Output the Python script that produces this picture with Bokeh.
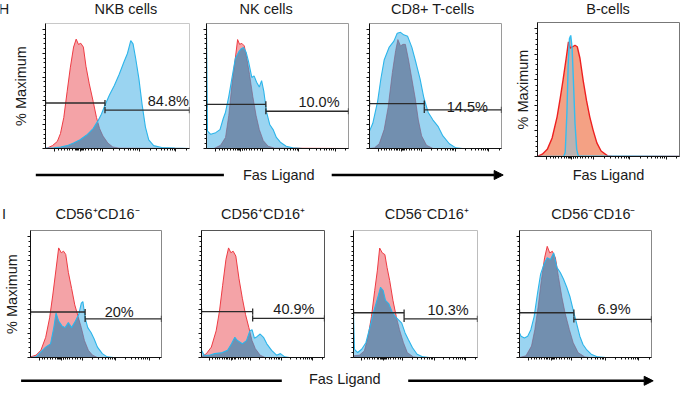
import numpy as np
from bokeh.plotting import figure
from bokeh.layouts import row, column
from bokeh.models import Range1d, FixedTicker, Label, Arrow, NormalHead
from bokeh.embed import file_html
from bokeh.resources import INLINE

FONT = "Liberation Sans"
TXT = "#1a1a1a"
FS = "14.5px"

# ---------------- data (x: Fas Ligand display scale 0-100, y: % of maximum) ----------------
titles_h = ["NKB cells", "NK cells", "CD8+ T-cells", "B-cells"]
titles_i = ["CD56\u207aCD16\u207b", "CD56\u207aCD16\u207a", "CD56\u207bCD16\u207a", "CD56\u207bCD16\u207b"]
gate_labels_h = ["84.8%", "10.0%", "14.5%"]
gate_labels_i = ["20%", "40.9%", "10.3%", "6.9%"]

nkb_red_x = [0, 1.4, 4.8, 8.2, 10.4, 12.7, 15.0, 17.2, 19.5, 21.3, 22.9, 24.5, 26.3, 28.1, 30.4, 33.1, 35.4, 37.6, 39.9, 43.3, 46.7, 51.2, 100]
nkb_red_y = [0, 0.5, 2.4, 5.9, 12.6, 26, 47.6, 67.7, 85.2, 91.9, 87.4, 88.4, 85.2, 69.1, 54.3, 39.5, 26.1, 16.7, 10.5, 4.6, 1.3, 0.3, 0]
nkb_blue_x = [0, 5.9, 10.4, 15.0, 19.5, 24.0, 28.6, 33.1, 36.5, 38.8, 41.0, 44.4, 47.8, 51.2, 54.6, 56.9, 59.2, 60.8, 62.6, 64.9, 67.1, 69.4, 71.7, 75.1, 80.7, 89.8, 100]
nkb_blue_y = [0.3, 0.5, 1.3, 2.4, 4.6, 7.3, 11.3, 16.7, 23.4, 28.8, 35.5, 44.9, 53, 62.4, 73.1, 79.8, 90.6, 87.9, 75.8, 58.3, 36.8, 18, 7.3, 2.4, 0.8, 0.3, 0]

nk_red_x = [0, 5.3, 9.9, 13.4, 15.7, 18.0, 20.3, 21.9, 23.3, 24.9, 26.6, 28.4, 30.3, 32.6, 34.9, 37.2, 40.0, 43.4, 48.0, 100]
nk_red_y = [0, 0, 2.7, 9.3, 27.9, 54.4, 75.6, 91.5, 87.5, 88.3, 86.2, 75.6, 62.3, 43.8, 27.9, 15.9, 6.6, 1.9, 0.3, 0]
nk_blue_x = [0, 0.7, 3.0, 6.5, 9.5, 11.8, 13.4, 15.7, 18.0, 20.3, 22.6, 24.2, 26.1, 27.9, 29.6, 31.9, 33.5, 35.3, 37.2, 38.8, 40.4, 42.3, 44.6, 46.9, 49.2, 52.0, 56.1, 60.7, 67.7, 100]
nk_blue_y = [104, 14.6, 11.9, 13.3, 15.9, 25.2, 30.5, 43.8, 59.7, 75.6, 80.9, 83.6, 84.9, 80.9, 72.9, 59.7, 61, 55.7, 51.7, 57, 47.7, 30.5, 19.9, 15.9, 9.3, 5.3, 1.9, 0.5, 0, 0]

cd8_red_x = [0, 3.7, 7.4, 11.1, 14.1, 17.3, 19.8, 21.5, 23.5, 25.4, 27.2, 29.6, 32.1, 34.6, 37.0, 39.5, 43.2, 48.1, 100]
cd8_red_y = [0, 0.5, 4, 15.9, 34.5, 63.7, 82.2, 91.5, 86.2, 87.5, 87.5, 74.3, 58.4, 42.4, 23.9, 10.6, 2.7, 0, 0]
cd8_blue_x = [0, 2.5, 6.2, 8.6, 11.1, 14.8, 18.5, 21.0, 23.5, 25.9, 28.9, 32.1, 35.3, 38.3, 41.2, 44.4, 48.1, 51.9, 55.6, 60.5, 65.4, 70.4, 100]
cd8_blue_y = [14.6, 21.2, 39.8, 58.4, 74.3, 84.9, 90.2, 96.8, 97.6, 95.5, 94.2, 84.9, 71.6, 58.4, 42.4, 30.5, 23.9, 18.6, 10.6, 4.0, 0.5, 0, 0]

bc_red_x = [0, 3.4, 6.9, 10.3, 13.8, 16.1, 17.9, 20.2, 21.8, 23.0, 24.8, 26.4, 28.0, 29.9, 32.2, 34.5, 36.8, 39.1, 41.8, 44.8, 49.4, 52.9, 100]
bc_red_y = [0, 1.8, 5.6, 14.5, 31.1, 46.4, 59.2, 77, 89.8, 85, 86, 87.2, 86, 77, 59.2, 43.9, 31.1, 20.9, 10.7, 4.3, 0.5, 0, 0]
bc_blue_x = [0, 18.4, 19.5, 20.7, 21.6, 22.5, 23.4, 24.4, 25.3, 26.4, 27.6, 28.7, 100]
bc_blue_y = [0, 0, 3.1, 33.7, 71.9, 92.3, 94.9, 84.7, 59.2, 26, 5.6, 0.5, 0]

i1_red_x = [0, 4.2, 7.9, 11.6, 14.6, 17.0, 19.5, 21.5, 23.5, 25.2, 26.9, 28.9, 31.4, 33.8, 36.3, 38.8, 41.2, 44.2, 47.4, 51.1, 100]
i1_red_y = [0.5, 1.9, 5.9, 16.7, 32.8, 51.6, 73.1, 90.6, 86.6, 87.9, 85.2, 70.4, 57, 43.5, 34.1, 24.7, 14, 5.9, 1.9, 0, 0]
i1_blue_x = [0, 4.2, 7.9, 11.6, 15.3, 17.8, 19.5, 21.5, 24.0, 26.4, 28.9, 31.4, 34.3, 36.8, 38.8, 40.0, 41.7, 43.7, 46.2, 48.6, 51.1, 54.8, 58.5, 63.5, 100]
i1_blue_y = [0, 0.5, 4.6, 8.6, 11.3, 24.7, 36.8, 30.1, 26.1, 24.7, 28.8, 24.7, 30.1, 35.5, 44.9, 46.2, 32.8, 24.7, 20.7, 15.3, 8.6, 3.2, 0.5, 0, 0]

i2_red_x = [0, 4.0, 8.0, 11.9, 14.6, 17.2, 19.9, 22.0, 23.9, 25.7, 27.9, 30.5, 33.2, 35.8, 38.5, 41.1, 43.8, 47.7, 51.7, 100]
i2_red_y = [0.5, 3.2, 8.6, 22.0, 38.2, 59.7, 81.2, 90.6, 86.6, 87.9, 83.9, 65.1, 49, 35.5, 24.7, 14, 7.3, 1.9, 0, 0]
i2_blue_x = [0, 2.1, 6.6, 10.6, 15.9, 21.2, 24.4, 27.1, 29.2, 33.2, 36.6, 39.3, 41.1, 43.0, 45.1, 47.7, 50.4, 53.1, 57.0, 61.0, 64.2, 67.6, 71.6, 100]
i2_blue_y = [5.9, 1.9, 1.9, 3.2, 3.8, 5.9, 11.3, 16.7, 14, 11.3, 14, 22, 23, 16, 17.2, 19.4, 16.7, 11.3, 5.9, 1.9, 3.2, 0.5, 0, 0]

i3_red_x = [0, 4.7, 8.7, 11.8, 14.5, 17.1, 19.2, 21.1, 23.2, 25.3, 27.1, 29.2, 31.8, 34.5, 37.1, 40.3, 43.4, 48.2, 52.1, 100]
i3_red_y = [1.4, 1.9, 5.4, 17.6, 33.8, 55.4, 71.6, 90.5, 86.5, 85.1, 74.3, 63.5, 47.3, 33.8, 23, 12.2, 4.1, 0.5, 0, 0]
i3_blue_x = [0, 0.8, 3.4, 6.6, 10.0, 13.4, 16.6, 19.7, 21.8, 23.9, 25.8, 28.4, 31.1, 33.7, 36.3, 38.9, 41.6, 44.2, 47.6, 51.3, 56.1, 61.3, 100]
i3_blue_y = [36.5, 6.8, 4.1, 6.8, 12.2, 25.7, 39.2, 50, 58.1, 55.4, 47.3, 44.6, 37.8, 33.8, 31.1, 28.4, 20.3, 14.9, 8.1, 2.7, 0.5, 0, 0]

i4_red_x = [0, 4.9, 9.1, 11.6, 14.1, 16.5, 19.0, 21.0, 22.9, 24.9, 27.2, 29.6, 32.1, 34.6, 37.8, 40.7, 44.4, 49.4, 53.1, 100]
i4_red_y = [0, 1.4, 9.5, 23, 41.9, 63.5, 82.4, 91.9, 86.5, 87.8, 82.4, 66.2, 50, 36.5, 23, 12.2, 4.1, 0.5, 0, 0]
i4_blue_x = [0, 1.2, 3.7, 6.2, 8.6, 11.1, 13.6, 16.0, 18.5, 21.0, 23.5, 25.9, 28.4, 30.9, 33.3, 35.8, 38.3, 40.7, 43.2, 45.7, 48.1, 50.6, 54.3, 59.3, 65.4, 100]
i4_blue_y = [20.3, 17.6, 16.2, 17.6, 23, 33.8, 52.7, 68.9, 77, 82.4, 81.1, 86.5, 74.3, 70.3, 64.9, 58.1, 50, 39.2, 28.4, 17.6, 10.8, 6.8, 2.7, 0.5, 0, 0]

# gates: split point, left level, right level, label x, label y
gate_split = [41.3, 41.8, 41.5, 41.7, 41.6, 40.8, 41.2]
gate_left = [38.2, 37.1, 37.7, 37.6, 37.9, 37.0, 37.0]
gate_right = [32.3, 31.3, 32.4, 31.9, 32.3, 31.9, 31.6]
gate_lab_x = [85.3, 79.2, 74.1, 67.7, 75.1, 76.3, 71.6]
gate_lab_y = [40.0, 39.0, 34.8, 37.6, 40.0, 39.5, 40.0]

# axis ticks (biexponential display)
XMAJ = [6.5, 24, 39.5, 65, 90.5]
XMIN = [9, 11, 13, 15, 17, 19, 20.5, 21.5, 22.5, 23, 25, 25.5, 26.5, 28, 30, 32, 34, 36, 38,
        47.2, 51.7, 54.9, 57.3, 59.3, 61.0, 62.5, 63.8,
        72.7, 77.2, 80.4, 82.8, 84.8, 86.5, 88.0, 89.3, 98.2]
YMAJ = [0, 20, 40, 60, 80, 100]
YMIN = [v for v in range(0, 104, 4) if v % 20 != 0]


def hist_panel(g, outline):
    w, h, left, right, top, bottom = g
    p = figure(width=w, height=h, x_range=Range1d(0, 100), y_range=Range1d(0, 105),
               output_backend="svg", toolbar_location=None, tools="",
               min_border_left=left, min_border_right=right,
               min_border_top=top, min_border_bottom=bottom)
    p.outline_line_color = outline
    p.xgrid.visible = False
    p.ygrid.visible = False
    p.background_fill_color = "white"
    p.border_fill_color = "white"
    for ax, maj, mn in ((p.xaxis[0], XMAJ, XMIN), (p.yaxis[0], YMAJ, YMIN)):
        ax.ticker = FixedTicker(ticks=maj, minor_ticks=mn)
        ax.major_label_text_font_size = "0px"
        ax.major_label_text_color = None
        ax.major_label_standoff = 0
        ax.major_tick_in = 0
        ax.major_tick_out = 3
        ax.minor_tick_in = 0
        ax.minor_tick_out = 2
        ax.axis_line_color = "#111111"
        ax.major_tick_line_color = "#111111"
        ax.minor_tick_line_color = "#111111"
        ax.axis_label_text_font = FONT
        ax.axis_label_text_font_size = FS
        ax.axis_label_text_font_style = "normal"
        ax.axis_label_text_color = TXT
    return p


def draw_hist(p, rx, ry, bx, by):
    p.varea(x=rx, y1=0, y2=ry, fill_color="#f4a3a7", fill_alpha=1.0)
    p.line(rx, ry, line_color="#ee3b43", line_width=1)
    p.varea(x=bx, y1=0, y2=by, fill_color="#56b8e8", fill_alpha=0.6)
    ox = np.union1d(rx, bx)
    oy = np.minimum(np.interp(ox, rx, ry), np.interp(ox, bx, by))
    p.varea(x=ox, y1=0, y2=oy, fill_color="#3c5f82", fill_alpha=0.4)
    p.line(bx, by, line_color="#2cb5ea", line_width=1.1)


def draw_gate(p, k, label):
    xg, yl, yr = gate_split[k], gate_left[k], gate_right[k]
    c = "#2b2b2b"
    p.segment(x0=[0, xg], y0=[yl, yr], x1=[xg, 100], y1=[yl, yr], line_color=c, line_width=1.3)
    d = 2.6
    p.segment(x0=[0, xg, xg, 100], y0=[yl - d, yl - d, yr - d, yr - d],
              x1=[0, xg, xg, 100], y1=[yl + d, yl + d, yr + d, yr + d], line_color=c, line_width=1.3)
    p.add_layout(Label(x=gate_lab_x[k], y=gate_lab_y[k], text=label, text_font=FONT,
                       text_font_size=FS, text_align="center", text_baseline="middle",
                       text_color=TXT))


def blank_fig(w, h):
    p = figure(width=w, height=h, x_range=Range1d(0, w), y_range=Range1d(0, h),
               output_backend="svg", toolbar_location=None, tools="",
               x_axis_type=None, y_axis_type=None,
               min_border_left=0, min_border_right=0, min_border_top=0, min_border_bottom=0)
    p.outline_line_color = None
    p.background_fill_color = "white"
    p.border_fill_color = "white"
    return p


def put_text(p, h, x, y_from_top, text):
    p.add_layout(Label(x=x, y=h - y_from_top, text=text, text_font=FONT, text_font_size=FS,
                       text_align="center", text_baseline="middle", text_color=TXT))


# geometry: width, height, border left, right, top, bottom
G_H = [(197, 145, 45, 8, 2, 15), (161, 145, 9, 10, 5, 11), (152, 145, 11, 9, 5, 11), (170, 173, 27, 1, 4, 35)]
G_I = [(184, 145, 28, 23, 7, 11), (152, 145, 17, 12, 7, 11), (167, 145, 17, 26, 7, 11), (177, 145, 16, 29, 7, 11)]
OUT_H = ["#c8c8c8", "#9a9a9a", "#9a9a9a", "#777777"]
OUT_I = ["#888888", "#555555", "#bdbdbd", "#888888"]
TITLE_X_H = [125.4, 265.6, 432.2, 607.6]
TITLE_X_I = [97.0, 262.6, 426.3, 592.9]

data_h = [(nkb_red_x, nkb_red_y, nkb_blue_x, nkb_blue_y),
          (nk_red_x, nk_red_y, nk_blue_x, nk_blue_y),
          (cd8_red_x, cd8_red_y, cd8_blue_x, cd8_blue_y)]
data_i = [(i1_red_x, i1_red_y, i1_blue_x, i1_blue_y),
          (i2_red_x, i2_red_y, i2_blue_x, i2_blue_y),
          (i3_red_x, i3_red_y, i3_blue_x, i3_blue_y),
          (i4_red_x, i4_red_y, i4_blue_x, i4_blue_y)]

# title strips
strip_h = blank_fig(680, 18)
put_text(strip_h, 18, 3.5, 8.8, "H")
for t, x in zip(titles_h, TITLE_X_H):
    put_text(strip_h, 18, x, 8.8, t)

strip_i = blank_fig(680, 32)
put_text(strip_i, 32, 3.5, 22.5, "I")
for t, x in zip(titles_i, TITLE_X_I):
    put_text(strip_i, 32, x, 22.5, t)

figs_h = []
for k in range(3):
    p = hist_panel(G_H[k], OUT_H[k])
    draw_hist(p, *data_h[k])
    draw_gate(p, k, gate_labels_h[k])
    figs_h.append(p)
figs_h[0].yaxis[0].axis_label = "% Maximum"
figs_h[0].yaxis[0].axis_label_standoff = 14

# B-cells
pb = hist_panel(G_H[3], OUT_H[3])
pb.varea(x=bc_red_x, y1=0, y2=bc_red_y, fill_color="#f4a184", fill_alpha=1.0)
pb.varea(x=bc_blue_x, y1=0, y2=bc_blue_y, fill_color="#bdb2b0", fill_alpha=1.0)
pb.line(bc_red_x, bc_red_y, line_color="#ee2020", line_width=1.4)
pb.line(bc_blue_x, bc_blue_y, line_color="#34bdf0", line_width=1.4)
pb.yaxis[0].axis_label = "% Maximum"
pb.yaxis[0].axis_label_standoff = 4
pb.xaxis[0].axis_label = "Fas Ligand"
pb.xaxis[0].axis_label_standoff = 7

figs_i = []
for k in range(4):
    p = hist_panel(G_I[k], OUT_I[k])
    draw_hist(p, *data_i[k])
    draw_gate(p, 3 + k, gate_labels_i[k])
    figs_i.append(p)
figs_i[0].yaxis[0].axis_label = "% Maximum"
figs_i[0].yaxis[0].axis_label_standoff = 8


def arrow_fig(w, h, yline, ytext, seg1, xtext, seg2):
    p = blank_fig(w, h)
    p.segment(x0=[seg1[0]], y0=[yline], x1=[seg1[1]], y1=[yline], line_color="black", line_width=2.5)
    p.add_layout(Arrow(x_start=seg2[0], y_start=yline, x_end=seg2[1], y_end=yline,
                       line_color="black", line_width=2.5,
                       end=NormalHead(size=9, fill_color="black", line_color="black")))
    p.add_layout(Label(x=xtext, y=ytext, text="Fas Ligand", text_font=FONT, text_font_size=FS,
                       text_align="center", text_baseline="middle", text_color=TXT))
    return p


arrow_h = arrow_fig(510, 28, 16.5, 16.5, (35.3, 223.4), 278.3, (331.2, 502.7))
arrow_i = arrow_fig(680, 19, 6.7, 8.5, (20.6, 281.3), 344.3, (407.7, 652.7))

top = row(column(row(*figs_h), arrow_h), pb)
bottom = row(*figs_i)
layout = column(strip_h, top, strip_i, bottom, arrow_i)

open("out.html", "w").write(file_html(layout, INLINE))
